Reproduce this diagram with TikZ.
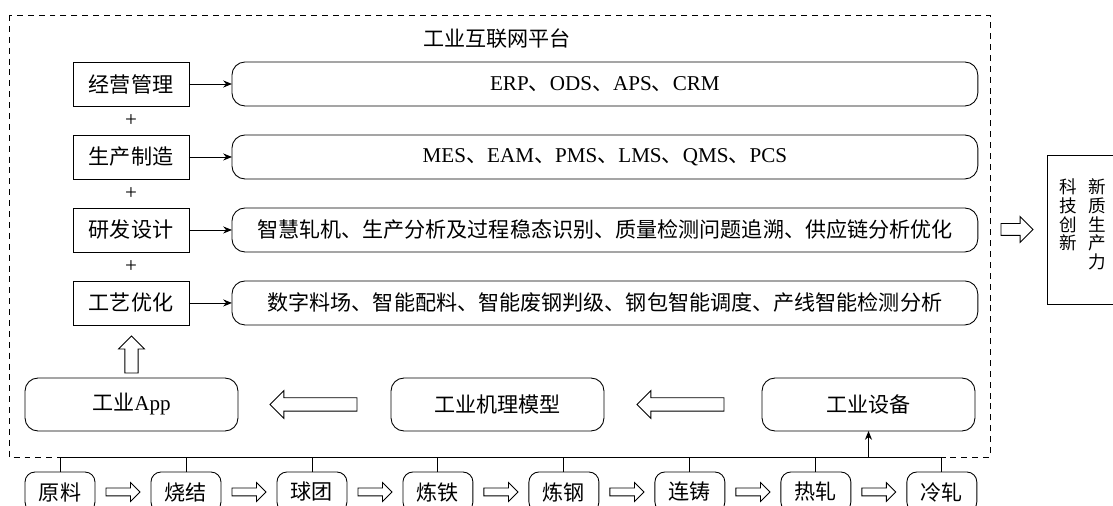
\documentclass[tikz,border=0pt]{standalone}
\usepackage{fontspec}
\setmainfont{Liberation Serif}
\newfontfamily\cjk{Noto Sans CJK SC}
\usetikzlibrary{positioning,shapes.arrows,arrows.meta}

\begin{document}
\begin{tikzpicture}[x=0.02cm, y=-0.02cm, line width=0.5pt,
      every node/.style={font=\cjk\fontsize{12}{14}\selectfont, inner sep=0pt, outer sep=0pt},
      field/.style={draw, minimum width=2.32cm, minimum height=0.88cm},
      tech/.style={draw, rounded corners=0.26cm, minimum width=14.92cm, minimum height=0.88cm},
      layer/.style={draw, rounded corners=0.26cm, minimum width=4.26cm, minimum height=1.06cm},
      stage/.style={draw, rounded corners=0.2cm, minimum width=1.4cm, minimum height=0.8cm},
      hollow/.style={single arrow, draw, fill=white, line width=0.5pt},
      flow/.style={hollow, minimum height=0.68cm, inner ysep=0.07cm, single arrow head extend=0.11cm},
      feed/.style={hollow, shape border rotate=180, minimum height=1.74cm, inner ysep=0.125cm, single arrow head extend=0.145cm},
      link/.style={-{Stealth[length=5pt,width=4pt]}},]
  \useasboundingbox (0,0) rectangle (1113,506);
  \clip (0,0) rectangle (1113,506);
  %.
  \draw[dash pattern=on 3.4pt off 2.8pt] (9,15) rectangle (990,457);
  \node (title) at (497,39) {工业互联网平台};
  % fields and technologies
  \node[field] (f1) at (131,84) {经营管理};
  \node[field, below=0.58cm of f1] (f2) {生产制造};
  \node[field, below=0.58cm of f2] (f3) {研发设计};
  \node[field, below=0.58cm of f3] (f4) {工艺优化};
  \node (plus1) at (131,121) {\textrm{+}};
  \node (plus2) at (131,194) {\textrm{+}};
  \node (plus3) at (131,267) {\textrm{+}};
  \node[tech, right=0.86cm of f1] (t1) {\textrm{ERP}、\textrm{ODS}、\textrm{APS}、\textrm{CRM}};
  \node[tech, right=0.86cm of f2] (t2) {\textrm{MES}、\textrm{EAM}、\textrm{PMS}、\textrm{LMS}、\textrm{QMS}、\textrm{PCS}};
  \node[tech, right=0.86cm of f3] (t3) {智慧轧机、生产分析及过程稳态识别、质量检测问题追溯、供应链分析优化};
  \node[tech, right=0.86cm of f4] (t4) {数字料场、智能配料、智能废钢判级、钢包智能调度、产线智能检测分析};
  \draw[link] (f1) -- (t1);
  \draw[link] (f2) -- (t2);
  \draw[link] (f3) -- (t3);
  \draw[link] (f4) -- (t4);
  % app, model, equipment
  \node[layer] (app) at (131.5,404.5) {工业\textrm{App}};
  \node[layer] (model) at (497.5,404.5) {工业机理模型};
  \node[layer] (equip) at (868.5,404.5) {工业设备};
  \node[hollow, shape border rotate=90, minimum height=0.74cm, inner sep=0.125cm,
        single arrow head extend=0.125cm, above=0.1cm of app] (rise) {};
  \node[feed, right=0.64cm of app] (feed1) {};
  \node[feed, right=0.66cm of model] (feed2) {};
  % production chain
  \node[stage] (s1) at (60,492) {原料};
  \node[flow, right=0.22cm of s1] (p1) {};
  \node[stage, right=0.22cm of p1] (s2) {烧结};
  \node[flow, right=0.22cm of s2] (p2) {};
  \node[stage, right=0.22cm of p2] (s3) {球团};
  \node[flow, right=0.22cm of s3] (p3) {};
  \node[stage, right=0.22cm of p3] (s4) {炼铁};
  \node[flow, right=0.22cm of s4] (p4) {};
  \node[stage, right=0.22cm of p4] (s5) {炼钢};
  \node[flow, right=0.22cm of s5] (p5) {};
  \node[stage, right=0.22cm of p5] (s6) {连铸};
  \node[flow, right=0.22cm of s6] (p6) {};
  \node[stage, right=0.22cm of p6] (s7) {热轧};
  \node[flow, right=0.22cm of s7] (p7) {};
  \node[stage, right=0.22cm of p7] (s8) {冷轧};
  \coordinate (bus) at (0,457);
  \draw (s1.north) |- (bus -| s8.north) -- (s8.north);
  \foreach \i in {2,...,7}
    \draw (s\i.north) -- (s\i.north |- bus);
  \draw[link] (equip.south |- bus) -- (equip.south);
  % result
  \node[draw, minimum width=1.32cm, minimum height=2.98cm] (force) at (1080,229.5) {};
  \node[hollow, minimum height=0.64cm, inner ysep=0.11cm, single arrow head extend=0.14cm,
        left=0.28cm of force] (gain) {};
  \node[anchor=north, align=center, font=\cjk\fontsize{10}{10.6}\selectfont] (force r) at (1097,179) {新\\质\\生\\产\\力};
  \node[anchor=north, align=center, font=\cjk\fontsize{10}{10.6}\selectfont] (force l) at (1068,179) {科\\技\\创\\新};
  %.
\end{tikzpicture}
\end{document}
